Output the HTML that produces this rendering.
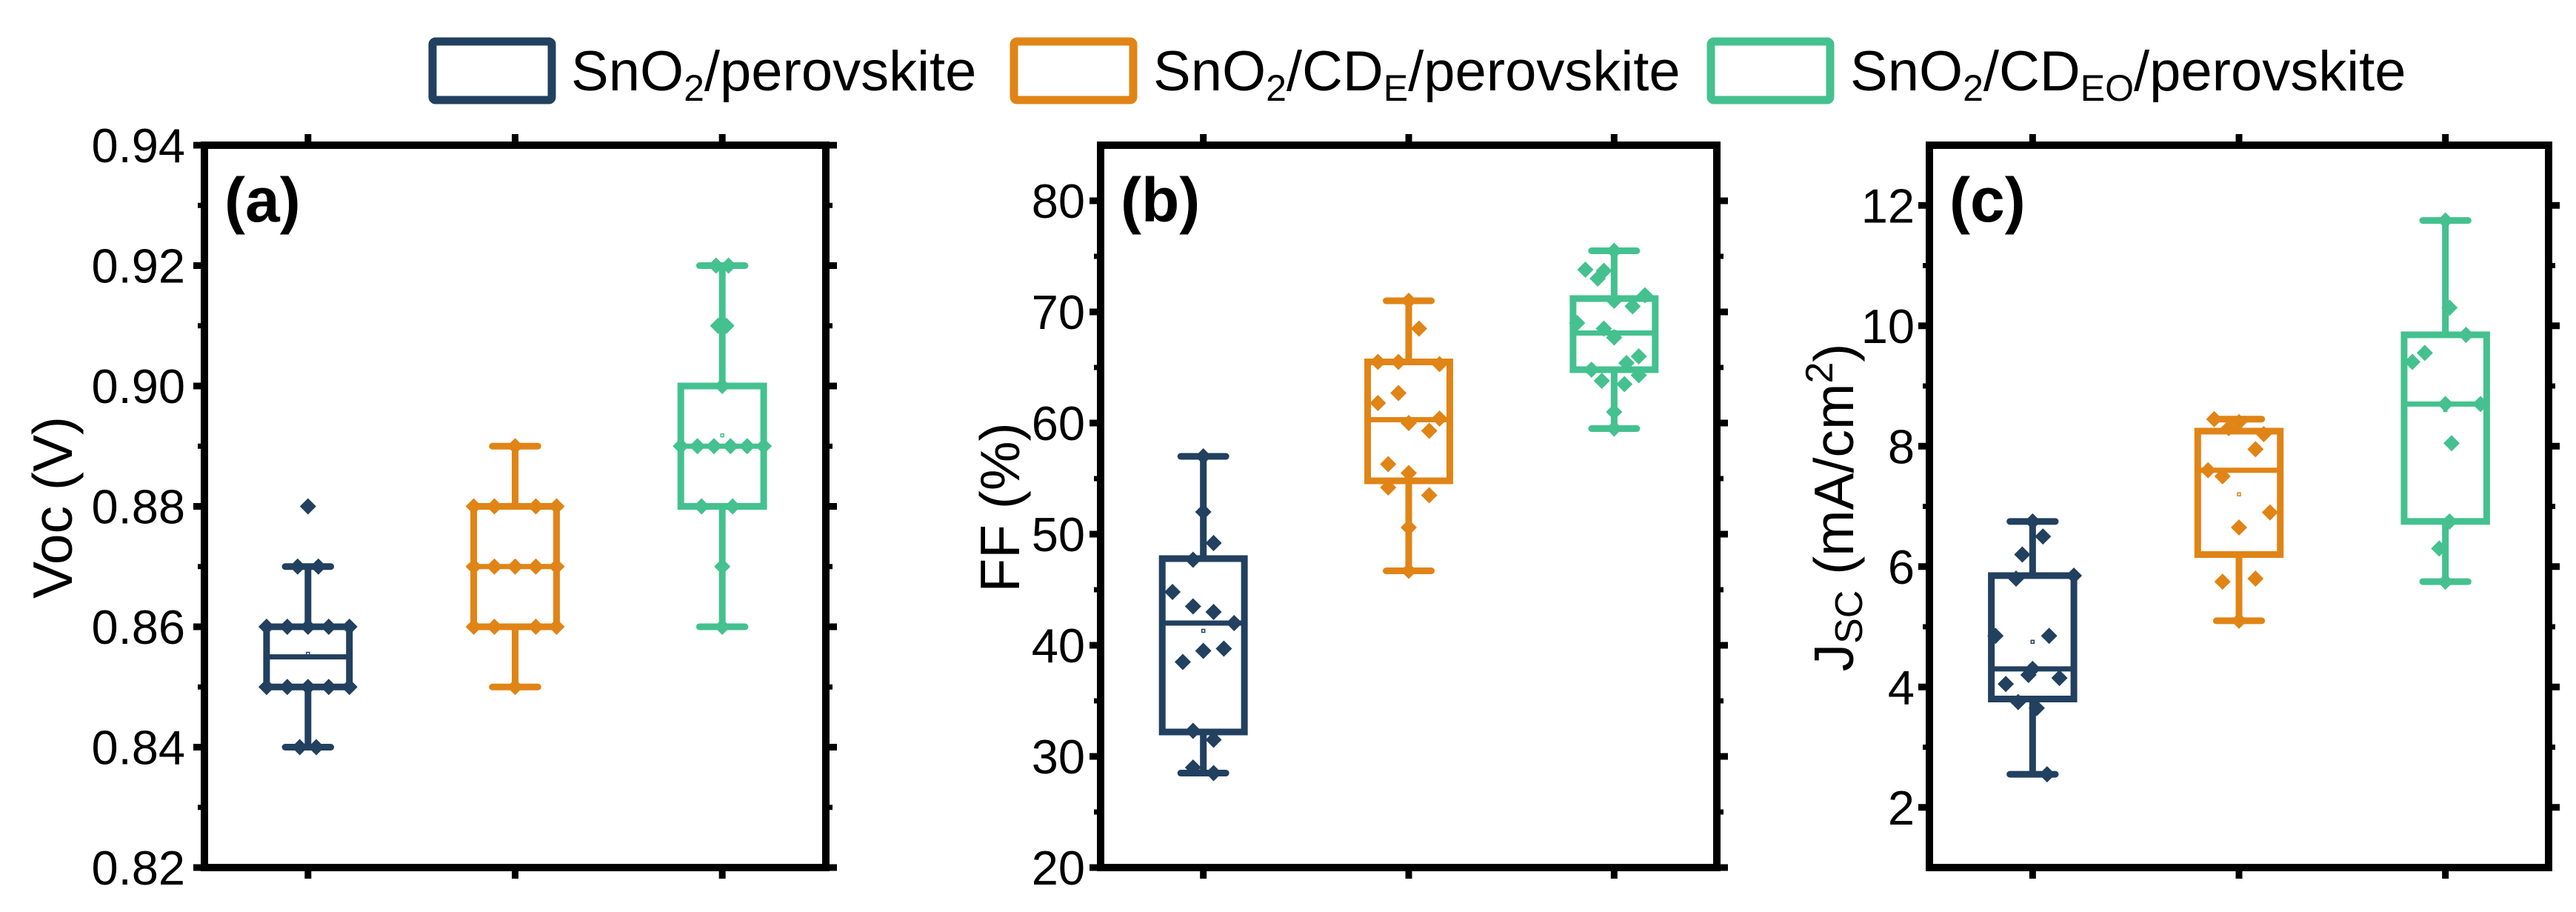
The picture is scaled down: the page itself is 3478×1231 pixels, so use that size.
<!DOCTYPE html>
<html><head><meta charset="utf-8">
<style>
html,body{margin:0;padding:0;background:#fff;}
svg{display:block;font-family:"Liberation Sans",Arial,sans-serif;}
</style></head>
<body>
<svg id="fig" width="3478" height="1231" viewBox="0 0 3478 1231" xmlns="http://www.w3.org/2000/svg">
  <g>
    <g>
      <rect x="584" y="56" width="161" height="79" rx="4" fill="none" stroke="#22405f" stroke-width="11"/>
      <text x="771" y="122" font-size="76">SnO<tspan font-size="50" dy="14">2</tspan><tspan dy="-14">/perovskite</tspan></text>
    </g>
    <g>
      <rect x="1369" y="56" width="161" height="79" rx="4" fill="none" stroke="#e08416" stroke-width="11"/>
      <text x="1557" y="122" font-size="76">SnO<tspan font-size="50" dy="14">2</tspan><tspan dy="-14">/CD</tspan><tspan font-size="50" dy="14">E</tspan><tspan dy="-14">/perovskite</tspan></text>
    </g>
    <g>
      <rect x="2310" y="56" width="161" height="79" rx="4" fill="none" stroke="#44c18f" stroke-width="11"/>
      <text x="2498" y="122" font-size="76">SnO<tspan font-size="50" dy="14">2</tspan><tspan dy="-14">/CD</tspan><tspan font-size="50" dy="14">EO</tspan><tspan dy="-14">/perovskite</tspan></text>
    </g>
  </g>
</svg>
<script>
// ---- data ----
const groups = ["SnO2/perovskite","SnO2/CDE/perovskite","SnO2/CDEO/perovskite"];
const colors = ["#22405f","#e08416","#44c18f"];

// Panel a: Voc
const vocTicks = [0.82,0.84,0.86,0.88,0.90,0.92,0.94];
const vocTickLabels = ["0.82","0.84","0.86","0.88","0.90","0.92","0.94"];
const vocBoxes = [ // [whiskerLow, q1, median, q3, whiskerHigh]
  [0.84,0.85,0.855,0.86,0.87],
  [0.85,0.86,0.87,0.88,0.89],
  [0.86,0.88,0.89,0.90,0.92]];
const vocPts0 = [[0,0.88],[-0.05,0.87],[0.05,0.87],[-0.2,0.86],[-0.1,0.86],[0,0.86],[0.1,0.86],[0.2,0.86],[-0.2,0.85],[-0.1,0.85],[0,0.85],[0.1,0.85],[0.2,0.85],[-0.04,0.84],[0.04,0.84]];
const vocPts1 = [[0,0.89],[-0.2,0.88],[-0.1,0.88],[0.1,0.88],[0.2,0.88],[-0.2,0.87],[-0.1,0.87],[0,0.87],[0.1,0.87],[0.2,0.87],[-0.2,0.86],[-0.1,0.86],[0.1,0.86],[0.2,0.86],[0,0.85]];
const vocPts2 = [[-0.03,0.92],[0.03,0.92],[-0.02,0.91],[0.02,0.91],[0,0.90],[-0.2,0.89],[-0.12,0.89],[-0.04,0.89],[0.04,0.89],[0.12,0.89],[0.2,0.89],[-0.1,0.88],[0.05,0.88],[0,0.87],[0,0.86]];
const vocMeans = [0.8555,0.87,0.8918];

// Panel b: FF
const ffTicks = [20,30,40,50,60,70,80];
const ffTickLabels = ["20","30","40","50","60","70","80"];
const ffBoxes = [
  [28.5,32.2,42,47.8,57],
  [46.7,54.8,60.3,65.5,71],
  [59.5,64.8,68.1,71.2,75.5]];
const ffPts0 = [[0,57],[0,52],[0.05,49.2],[-0.05,47.7],[-0.15,44.8],[-0.05,43.5],[0.05,43],[0.15,42],[-0.1,38.5],[0,39.5],[0.1,39.7],[-0.05,32.3],[0.05,31.5],[-0.05,29],[0.05,28.5]];
const ffPts1 = [[0,71],[0.05,68.5],[-0.15,65.5],[-0.05,65.5],[0.15,65.3],[-0.05,62.7],[-0.15,61.8],[0.15,60.4],[0,60],[0.1,59.3],[-0.1,56.3],[0,55.5],[-0.1,54.2],[0.1,53.5],[0,50.6],[0,46.7]];
const ffPts2 = [[0,75.5],[-0.14,73.8],[-0.05,73.7],[-0.08,73],[0.15,71.5],[0,71],[0.09,70.5],[-0.18,69],[-0.05,68.5],[0,67.7],[0.06,65.4],[0.12,66],[-0.11,64.8],[0.12,64.3],[-0.06,63.8],[0.05,63.5],[0,61],[0,59.5]];
const ffMeans = [41.3,60,68.2];

// Panel c: Jsc
const jscTicks = [2,4,6,8,10,12];
const jscTickLabels = ["2","4","6","8","10","12"];
const jscBoxes = [
  [2.55,3.8,4.3,5.85,6.75],
  [5.1,6.2,7.6,8.25,8.45],
  [5.75,6.75,8.7,9.85,11.75]];
const jscPts0 = [[0,6.75],[0.05,6.5],[-0.05,6.2],[-0.08,5.8],[0.2,5.85],[-0.18,4.85],[0.08,4.85],[0,4.3],[-0.02,4.2],[0.13,4.15],[-0.13,4.05],[-0.07,3.75],[0.02,3.65],[0.07,2.55]];
const jscPts1 = [[-0.12,8.45],[0,8.4],[-0.05,8.3],[0.12,8.2],[0.08,7.95],[-0.15,7.6],[-0.08,7.5],[0.15,6.9],[0,6.65],[-0.08,5.75],[0.08,5.8],[0,5.1]];
const jscPts2 = [[0,11.75],[0.02,10.3],[0.1,9.85],[-0.1,9.55],[-0.16,9.4],[0,8.7],[0.17,8.7],[0.03,8.05],[0.02,6.75],[-0.03,6.3],[0,5.75]];
const jscMeans = [4.75,7.2,8.6];

// ---- drawing ----
const NS = "http://www.w3.org/2000/svg";
const svg = document.getElementById("fig");
function mk(tag, attrs, parent){
  const e = document.createElementNS(NS, tag);
  for (const k in attrs) e.setAttribute(k, attrs[k]);
  (parent||svg).appendChild(e);
  return e;
}
const TOP = 196, BOT = 1171;

function panel(cfg){
  const g = mk("g", {});
  
  
  const x0 = cfg.x0, x1 = cfg.x1;
  const xs = c => x0 + (c + 0.5) / 3 * (x1 - x0);
  const ys = v => BOT - (v - cfg.ymin) / (cfg.ymax - cfg.ymin) * (BOT - TOP);
  const unit = (x1 - x0) / 3;

  // ticks
  cfg.ticks.forEach((t, i) => {
    const y = ys(t);
    const tk = mk("line", {x1: x0 - 15, x2: x0, y1: y, y2: y, stroke: "#000", "stroke-width": 9}, g);
    
    
    const tr = mk("line", {x1: x1, x2: x1 + 15, y1: y, y2: y, stroke: "#000", "stroke-width": 9}, g);
    
    
    const lb = mk("text", {x: cfg.labelRight, y: y + 23, "font-size": 65, "text-anchor": "end"}, g);
    lb.textContent = cfg.tickLabels[i];
    
    
  });
  cfg.minor.forEach(t => {
    const y = ys(t);
    const m1 = mk("line", {x1: x0 - 9, x2: x0, y1: y, y2: y, stroke: "#000", "stroke-width": 7}, g);
    
    
    const m2 = mk("line", {x1: x1, x2: x1 + 9, y1: y, y2: y, stroke: "#000", "stroke-width": 7}, g);
    
    
  });
  for (let c = 0; c < 3; c++){
    const x = xs(c);
    const a = mk("line", {x1: x, x2: x, y1: BOT, y2: BOT + 15, stroke: "#000", "stroke-width": 9}, g);
    
    
    const b = mk("line", {x1: x, x2: x, y1: TOP - 15, y2: TOP, stroke: "#000", "stroke-width": 9}, g);
    
    
  }

  // boxes
  cfg.boxes.forEach((b, c) => {
    const x = xs(c), col = colors[c];
    const bw = 0.2 * unit, cw = 0.11 * unit;
    const bg = mk("g", {}, g);
    
    
    mk("line", {x1: x, x2: x, y1: ys(b[0]), y2: ys(b[1]), stroke: col, "stroke-width": 9}, bg);
    mk("line", {x1: x, x2: x, y1: ys(b[3]), y2: ys(b[4]), stroke: col, "stroke-width": 9}, bg);
    mk("line", {x1: x - cw, x2: x + cw, y1: ys(b[0]), y2: ys(b[0]), stroke: col, "stroke-width": 9, "stroke-linecap": "round"}, bg);
    mk("line", {x1: x - cw, x2: x + cw, y1: ys(b[4]), y2: ys(b[4]), stroke: col, "stroke-width": 9, "stroke-linecap": "round"}, bg);
    mk("rect", {x: x - bw, y: ys(b[3]), width: 2 * bw, height: ys(b[1]) - ys(b[3]), fill: "none", stroke: col, "stroke-width": 9}, bg);
    mk("line", {x1: x - bw, x2: x + bw, y1: ys(b[2]), y2: ys(b[2]), stroke: col, "stroke-width": 7}, bg);
    const mm = mk("rect", {x: x - 2, y: ys(cfg.means[c]) - 2, width: 4, height: 4, fill: "none", stroke: col, "stroke-width": 1.5}, bg);
    
    
  });
  // points
  cfg.pts.forEach((arr, c) => {
    const col = colors[c];
    arr.forEach(p => {
      const px = xs(c) + p[0] * unit, py = ys(p[1]), r = 11;
      const d = mk("polygon", {points: `${px},${py - r} ${px + r},${py} ${px},${py + r} ${px - r},${py}`, fill: col}, g);
      
      
    });
  });

  // frame
  const fr = mk("rect", {x: x0, y: TOP, width: x1 - x0, height: BOT - TOP, fill: "none", stroke: "#000", "stroke-width": 10}, g);
  
  

  const pl = mk("text", {x: x0 + 27, y: 299, "font-size": 84, "font-weight": "bold"}, g);
  pl.textContent = cfg.label;
  
  

  const yt = mk("text", {x: 0, y: 0, "font-size": 75, "text-anchor": "middle", transform: `translate(${cfg.titleX},685) rotate(-90)`}, g);
  
  
  if (cfg.jsc){
    yt.innerHTML = 'J<tspan font-size="52" dy="12">SC</tspan><tspan dy="-12"> (mA/cm</tspan><tspan font-size="52" dy="-28">2</tspan><tspan dy="28">)</tspan>';
  } else {
    yt.textContent = cfg.title;
  }
}

panel({name: "voc-panel", x0: 276, x1: 1115, ymin: 0.82, ymax: 0.94, ticks: vocTicks, tickLabels: vocTickLabels,
  minor: [0.83,0.85,0.87,0.89,0.91,0.93], boxes: vocBoxes, pts: [vocPts0, vocPts1, vocPts2], means: vocMeans,
  labelRight: 250, label: "(a)", title: "Voc (V)", titleX: 97});
panel({name: "ff-panel", x0: 1486, x1: 2318, ymin: 20, ymax: 85, ticks: ffTicks, tickLabels: ffTickLabels,
  minor: [25,35,45,55,65,75], boxes: ffBoxes, pts: [ffPts0, ffPts1, ffPts2], means: ffMeans,
  labelRight: 1465, label: "(b)", title: "FF (%)", titleX: 1376});
panel({name: "jsc-panel", x0: 2605, x1: 3441, ymin: 1, ymax: 13, ticks: jscTicks, tickLabels: jscTickLabels,
  minor: [3,5,7,9,11], boxes: jscBoxes, pts: [jscPts0, jscPts1, jscPts2], means: jscMeans,
  labelRight: 2585, label: "(c)", title: "", titleX: 2502, jsc: true});
</script>
</body></html>
